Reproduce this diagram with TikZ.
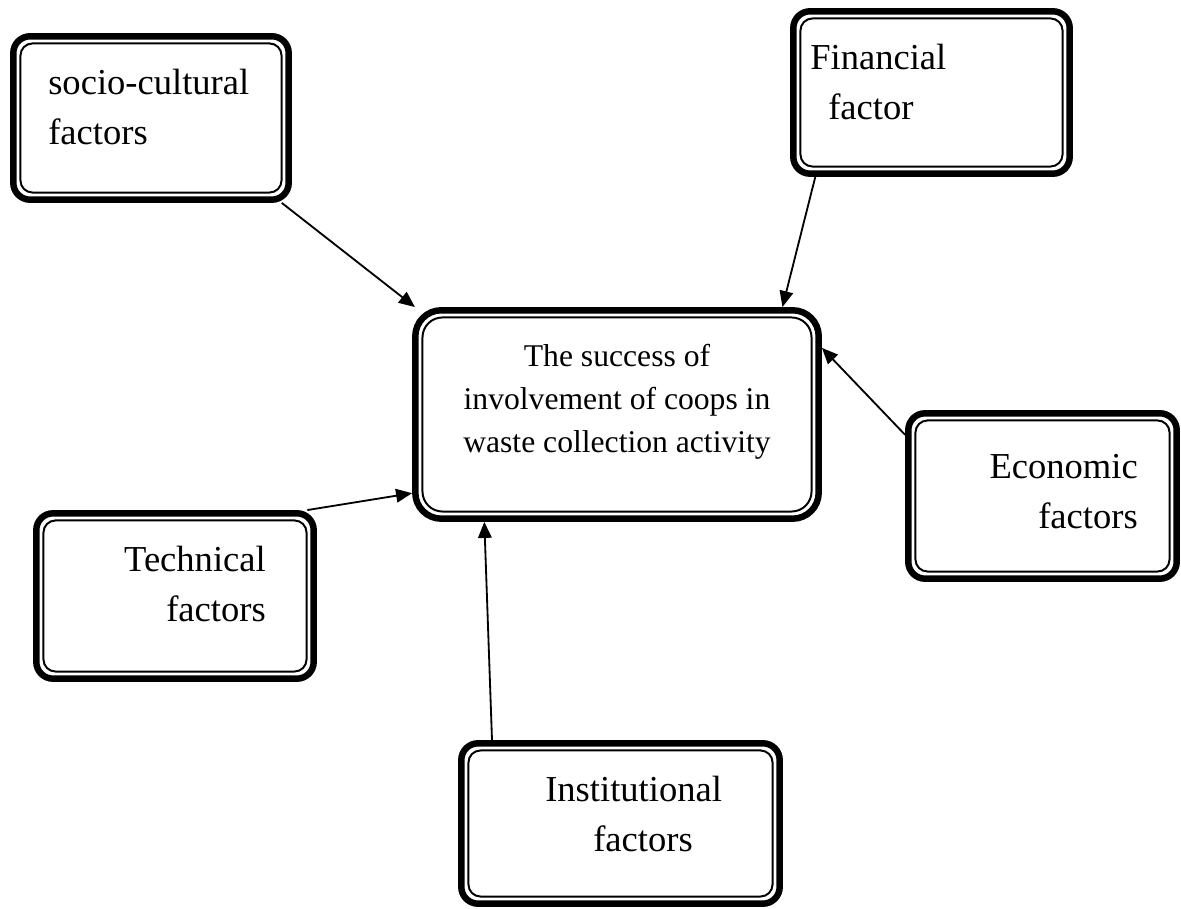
\documentclass[tikz,border=0pt]{standalone}
\usepackage{fontspec}
\setmainfont{Liberation Serif}
\usetikzlibrary{arrows.meta}

\tikzset{
  box/.style={draw,line width=4.6pt,rounded corners=0.42cm,inner sep=0pt},
  lbl/.style={font=\fontsize{26}{35}\selectfont,inner sep=0pt},
  link/.style={line width=1.3pt,-{Triangle[length=0.4cm,width=0.34cm]}}
}

\begin{document}
\begin{tikzpicture}

\useasboundingbox (0,0) rectangle (29.525,22.725);

\begin{scope} % outer frames
  \node[box,minimum width=6.885cm,minimum height=4.085cm] (social) at (3.775,19.775) {};
  \node[box,minimum width=6.91cm,minimum height=4.06cm] (financial) at (23.2875,20.4125) {};
  \node[box,rounded corners=0.65cm,minimum width=10.085cm,minimum height=5.21cm]
    (success) at (15.425,12.3625) {};
  \node[box,minimum width=6.71cm,minimum height=4.135cm] (economic) at (26.0625,10.325) {};
  \node[box,minimum width=6.935cm,minimum height=4.135cm] (technical) at (4.375,7.825) {};
  \node[box,minimum width=7.96cm,minimum height=4.01cm] (institutional) at (15.5125,2.1375) {};
\end{scope}

\begin{scope}[line width=1.4pt] % thin inner frames
  \foreach \n/\r in {social/0.3cm,financial/0.3cm,success/0.5cm,economic/0.3cm,
                     technical/0.3cm,institutional/0.3cm} {
    \draw[rounded corners=\r] ([shift={(0.26,0.26)}]\n.south west) rectangle
      ([shift={(-0.26,-0.26)}]\n.north east);
  }
\end{scope}

\begin{scope} % labels (base = last line)
  \node[lbl,anchor=base west,align=left] (socialtext) at (1.2,19.12)
    {socio-cultural\\factors};
  \node[lbl,anchor=base west,align=left] (financialtext) at (20.25,19.745)
    {Financial\\\hspace*{0.45cm}factor};
  \node[lbl,font=\fontsize{22.5}{30.6}\selectfont,anchor=base,align=center]
    (successtext) at (15.425,11.4)
    {The success of\\involvement of coops in\\waste collection activity};
  \node[lbl,anchor=base east,align=right] (economictext) at (28.45,9.52)
    {Economic\\factors};
  \node[lbl,anchor=base east,align=right] (technicaltext) at (6.65,7.195)
    {Technical\\factors};
  \node[lbl,anchor=base west,align=left] (institutionaltext) at (13.625,1.445)
    {Institutional\\\hspace*{1.2cm}factors};
\end{scope}

\begin{scope} % arrows into the centre
  \draw[link] (social.-33) -- (success.152.9);
  \draw[link] (financial.-144.5) -- (success.33.4);
  \draw[link] (economic.156.8) -- (success.18.2);
  \draw[link] (technical.33.6) -- (success.-159.3);
  \draw[link] (institutional.147.4) -- (success.-141.5);
\end{scope}

\end{tikzpicture}
\end{document}
